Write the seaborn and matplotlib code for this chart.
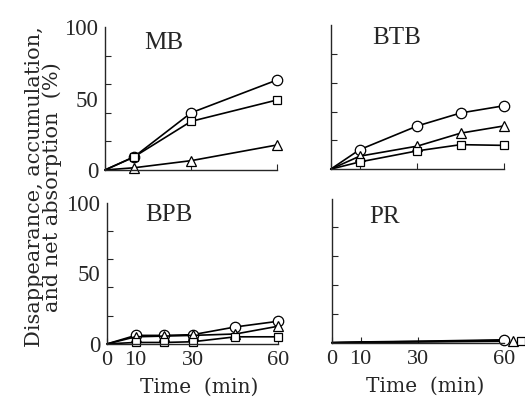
import matplotlib
matplotlib.use("Agg")
import matplotlib.pyplot as plt
import matplotlib.transforms as mtransforms
import seaborn as sns

# ------------------------------
# Data
# ------------------------------
mb_time = [0, 10, 30, 60]
mb_circle = [0, 9, 40, 63]
mb_square = [0, 9, 34, 49]
mb_triangle = [0, 1.5, 6.5, 17.5]

btb_time = [0, 10, 30, 45, 60]
btb_circle = [0, 13.5, 30, 39, 44]
btb_triangle = [0, 9, 16, 25, 30]
btb_square = [0, 5, 12.7, 17, 16.5]

bpb_time = [0, 10, 20, 30, 45, 60]
bpb_circle = [0, 6, 6, 6.5, 12, 16]
bpb_triangle = [0, 5, 5.5, 6, 7, 12.5]
bpb_square = [0, 1, 1, 1.5, 5, 5]

pr_time = [0, 10, 30, 60]
pr_circle = [0, 0.5, 1, 2]
pr_triangle = [0, 0.3, 0.8, 1.5]
pr_square = [0, 0.2, 0.5, 1]

x_ticks = [0, 10, 30, 60]
y_labels = [0, 50, 100]
y_minor = [0, 20, 40, 60, 80, 100]

sns.set_style("ticks")
plt.rcParams["font.family"] = ["DejaVu Serif"]
tick_font = "Liberation Serif"

fig = plt.figure(figsize=(5.25, 3.98), dpi=100)

# axes boxes [left, bottom, width, height]
ax_mb = fig.add_axes([0.200, 0.573, 0.328, 0.359])
ax_btb = fig.add_axes([0.630, 0.575, 0.330, 0.362])
ax_bpb = fig.add_axes([0.204, 0.136, 0.326, 0.355])
ax_pr = fig.add_axes([0.632, 0.139, 0.328, 0.362])

panels = [
    (ax_mb, "MB", mb_time, mb_circle, mb_square, mb_triangle, (0.23, 0.89)),
    (ax_btb, "BTB", btb_time, btb_circle, btb_square, btb_triangle, (0.24, 0.91)),
    (ax_bpb, "BPB", bpb_time, bpb_circle, bpb_square, bpb_triangle, (0.22, 0.91)),
    (ax_pr, "PR", pr_time, pr_circle, pr_square, pr_triangle, (0.22, 0.87)),
]

line_kw = dict(color="black", linewidth=1.2, markerfacecolor="white",
               markeredgecolor="black", markeredgewidth=0.9, clip_on=False)
mk_size = {"o": 7.5, "^": 7, "s": 5.8}

for ax, name, t, circ, sq, tri, tpos in panels:
    n = len(t)
    if name == "PR":
        # the 60-min points sit side by side in the original, lines end at the circle
        for vals, mk, shift in [(tri, "^", 9), (sq, "s", 17), (circ, "o", 0)]:
            sns.lineplot(x=t, y=vals, ax=ax, **line_kw)
            tr = ax.transData + mtransforms.ScaledTranslation(shift / 100, 0, fig.dpi_scale_trans)
            ax.plot(t[-1:], vals[-1:], marker=mk, markersize=mk_size[mk], linestyle="none",
                    transform=tr, **line_kw)
    else:
        for vals, mk in [(circ, "o"), (tri, "^"), (sq, "s")]:
            sns.lineplot(x=t, y=vals, ax=ax, marker=mk, markersize=mk_size[mk],
                         markevery=list(range(1, n)), **line_kw)

    ax.set_xlim(0, 60)
    ax.set_ylim(0, 100)
    ax.set_xticks(x_ticks)
    ax.set_yticks(y_labels)
    ax.set_yticks(y_minor, minor=True)
    ax.tick_params(axis="y", which="major", length=0, labelsize=16.5, pad=5)
    ax.tick_params(axis="y", which="minor", direction="in", length=4, width=0.8)
    ax.tick_params(axis="x", direction="in", length=4, width=0.8, labelsize=16, pad=5)
    for lab in ax.get_xticklabels() + ax.get_yticklabels():
        lab.set_fontfamily(tick_font)
    for side in ["top", "right"]:
        ax.spines[side].set_visible(False)
    for side in ["left", "bottom"]:
        ax.spines[side].set_linewidth(1.0)
    ax.text(tpos[0], tpos[1], name, transform=ax.transAxes, fontsize=18,
            fontfamily=tick_font, ha="left", va="center")

for ax in [ax_mb, ax_btb]:
    ax.tick_params(axis="x", labelbottom=False)
for ax in [ax_btb, ax_pr]:
    ax.tick_params(axis="y", labelleft=False)

for ax in [ax_bpb, ax_pr]:
    ax.set_xlabel("Time  (min)", fontsize=14.5)
    ax.xaxis.set_label_coords(0.54, -0.24)

fig.text(0.083, 0.53, "Disappearance, accumulation,\nand net absorption  (%)",
         rotation=90, ha="center", va="center", fontsize=15, linespacing=0.85)

plt.savefig("out.png", dpi=100)
